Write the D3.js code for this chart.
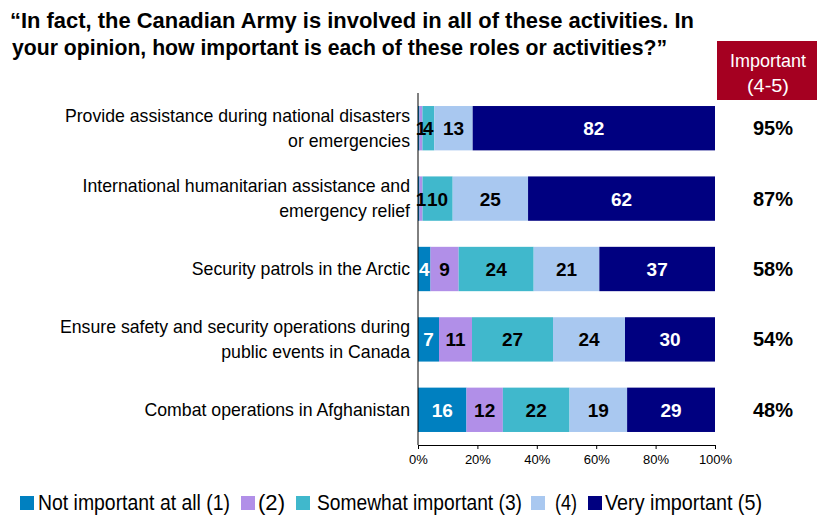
<!DOCTYPE html>
<html><head><meta charset="utf-8">
<script src="https://cdn.jsdelivr.net/npm/d3@7"></script>
<style>body{margin:0;background:#fff}svg{display:block}</style>
</head><body>
<svg id="c" width="827" height="515"></svg>
<script>
const categories = [
  ["Provide assistance during national disasters", "or emergencies"],
  ["International humanitarian assistance and", "emergency relief"],
  ["Security patrols in the Arctic"],
  ["Ensure safety and security operations during", "public events in Canada"],
  ["Combat operations in Afghanistan"]
];
const seriesNames = ["Not important at all (1)", "(2)", "Somewhat important (3)", "(4)", "Very important (5)"];
const s1 = [0.5, 0.5, 4, 7, 16];
const s2 = [1, 1, 9, 11, 12];
const s3 = [4, 10, 24, 27, 22];
const s4 = [13, 25, 21, 24, 19];
const s5 = [82, 62, 37, 30, 29];
const importantPct = ["95%", "87%", "58%", "54%", "48%"];
const xTicks = [0, 20, 40, 60, 80, 100];
const colors = ["#0080C0", "#B18FE8", "#40B8CC", "#A9C8F0", "#000080"];
const labelColors = ["#fff", "#000", "#000", "#000", "#fff"];
const titleLines = ["\u201cIn fact, the Canadian Army is involved in all of these activities. In", "your opinion, how important is each of these roles or activities?\u201d"];
const headerLines = ["Important", "(4-5)"];

const series = [s1, s2, s3, s4, s5];
const arial = "'Liberation Sans', Arial, sans-serif";
const svg = d3.select("#c");

const x = d3.scaleLinear().domain([0, 100]).range([418, 715]);
const y = d3.scaleBand().domain(d3.range(categories.length)).range([93, 445]).paddingInner(0.37).paddingOuter(0.185);

// title
const titleW = [684, 655];
svg.append("g").selectAll("text").data(titleLines).join("text")
  .attr("x", (d, i) => i ? 12 : 10).attr("y", (d, i) => 28 + i * 27)
  .attr("font-family", arial).attr("font-weight", "bold").attr("font-size", 22)
  .attr("textLength", (d, i) => titleW[i]).attr("lengthAdjust", "spacingAndGlyphs")
  .attr("fill", "#000").text(d => d);

// header box
svg.append("rect").attr("x", 717).attr("y", 41).attr("width", 100).attr("height", 59).attr("fill", "#A50021");
const headerW = [76, 42];
svg.append("g").selectAll("text").data(headerLines).join("text")
  .attr("x", 768).attr("y", (d, i) => 67 + i * 25).attr("text-anchor", "middle")
  .attr("textLength", (d, i) => headerW[i]).attr("lengthAdjust", "spacingAndGlyphs")
  .attr("font-family", arial).attr("font-size", 19).attr("fill", "#fff").text(d => d);

// bars
const rows = categories.map((c, i) => {
  const vals = series.map(s => s[i]);
  const tot = d3.sum(vals);
  let acc = 0;
  return vals.map((v, k) => { const seg = {row: i, k, v, x0: acc / tot * 100, x1: (acc + v) / tot * 100}; acc += v; return seg; });
});
const segs = rows.flat();
svg.append("g").selectAll("rect").data(segs).join("rect")
  .attr("x", d => x(d.x0)).attr("width", d => x(d.x1) - x(d.x0))
  .attr("y", d => y(d.row)).attr("height", y.bandwidth())
  .attr("fill", d => colors[d.k]);
svg.append("g").selectAll("text").data(segs.filter(d => d.v >= 1)).join("text")
  .attr("x", d => (x(d.x0) + x(d.x1)) / 2).attr("y", d => y(d.row) + y.bandwidth() / 2 + 7)
  .attr("text-anchor", "middle").attr("font-family", arial).attr("font-weight", "bold").attr("font-size", 19)
  .attr("fill", d => labelColors[d.k]).text(d => d.v);

// category labels
const cl = svg.append("g").selectAll("text").data(categories).join("text")
  .attr("text-anchor", "end").attr("font-family", arial).attr("font-size", 17.7).attr("fill", "#000");
cl.each(function(lines, i) {
  const cy = y(i) + y.bandwidth() / 2;
  d3.select(this).selectAll("tspan").data(lines).join("tspan")
    .attr("x", 410).attr("y", (d, j) => cy + 6 + (j - (lines.length - 1) / 2) * 25).text(d => d);
});

// important pct
svg.append("g").selectAll("text").data(importantPct).join("text")
  .attr("x", 773).attr("y", (d, i) => y(i) + y.bandwidth() / 2 + 7).attr("text-anchor", "middle")
  .attr("font-family", arial).attr("font-weight", "bold").attr("font-size", 20).text(d => d);

// axes
const xa = svg.append("g").attr("transform", "translate(0,445)")
  .call(d3.axisBottom(x).tickValues(xTicks).tickFormat(d => d + "%").tickSize(4).tickSizeOuter(0));
xa.select(".domain").attr("stroke", "#000");
xa.selectAll("line").attr("stroke", "#000");
xa.selectAll("text").attr("font-family", arial).attr("font-size", 13).attr("fill", "#000").attr("dy", "0.95em");
svg.append("line").attr("x1", 418).attr("x2", 418).attr("y1", 93).attr("y2", 445).attr("stroke", "#000");

// legend
const legSq = [20, 241, 296, 531, 588];
const legTx = [38, 258, 317, 555, 605];
const legW = [192, 27, 205, 22, 157];
const lg = svg.append("g").selectAll("g").data(seriesNames).join("g");
lg.append("rect").attr("x", (d, i) => legSq[i]).attr("y", 496).attr("width", 14).attr("height", 14).attr("fill", (d, i) => colors[i]);
lg.append("text").attr("x", (d, i) => legTx[i]).attr("y", 510)
  .attr("textLength", (d, i) => legW[i]).attr("lengthAdjust", "spacingAndGlyphs")
  .attr("font-family", arial).attr("font-size", 22).attr("fill", "#000").text(d => d);
</script>
</body></html>
